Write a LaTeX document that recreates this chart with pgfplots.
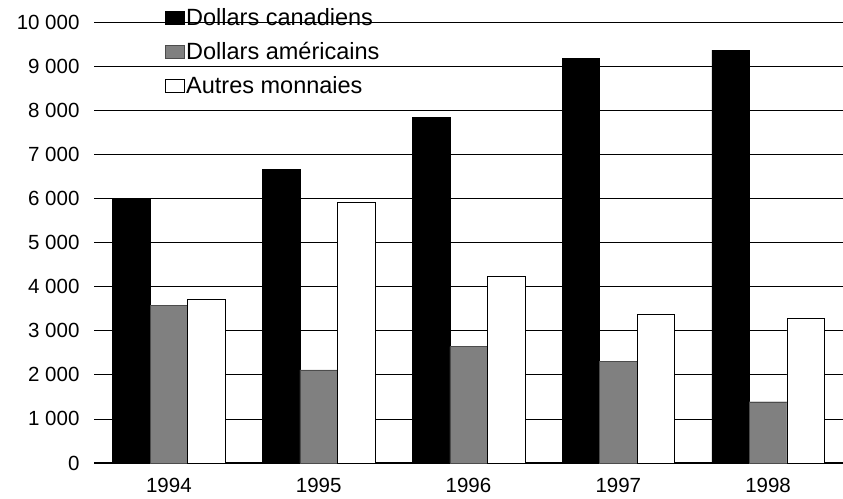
\documentclass[border=0pt]{standalone}
\usepackage{fontspec}
\setmainfont{Liberation Sans}
\usepackage{pgfplots}
\pgfplotsset{compat=1.18}
\definecolor{midgray}{RGB}{128,128,128}
\begin{document}
\begin{tikzpicture}
\path[use as bounding box] (0,0) rectangle (843pt,498pt);
\begin{axis}[
  at={(94pt,35pt)}, anchor=south west,
  scale only axis, width=749pt, height=441pt,
  ybar=0pt, bar width=37.5pt,
  xmin=-0.5, xmax=4.5, ymin=0, ymax=10000,
  xtick=data, xticklabels={1994,1995,1996,1997,1998},
  ytick={0,1000,...,10000},
  scaled y ticks=false,
  ymajorgrids, grid style={black, line width=0.8pt},
  axis x line*=bottom, axis y line*=left,
  y axis line style={draw=none},
  x axis line style={line width=1.2pt},
  major tick length=0pt,
  tick label style={font=\fontsize{20.5}{22}\selectfont},
  /pgf/number format/assume math mode=true,
  /pgf/number format/1000 sep={\ },
  yticklabel style={xshift=-11pt},
  xticklabel style={yshift=-12pt},
  legend style={at={(axis description cs:0.094,1.035)}, anchor=north west,
    draw=none, fill=none, inner sep=0pt, row sep=11pt,
    font=\fontsize{23.5}{25}\selectfont},
  legend cell align=left,
  legend image code/.code={\draw[#1, line width=0.6pt] (0pt,-6.5pt) rectangle (19pt,6.5pt);},
]
\addplot[fill=black, draw=black] coordinates {(0,6000) (1,6660) (2,7830) (3,9180) (4,9360)};
\addplot[fill=midgray, draw=black!70] coordinates {(0,3580) (1,2110) (2,2640) (3,2300) (4,1390)};
\addplot[fill=white, draw=black] coordinates {(0,3720) (1,5910) (2,4230) (3,3380) (4,3280)};
\legend{Dollars canadiens, Dollars américains, Autres monnaies}
\end{axis}
\end{tikzpicture}
\end{document}
